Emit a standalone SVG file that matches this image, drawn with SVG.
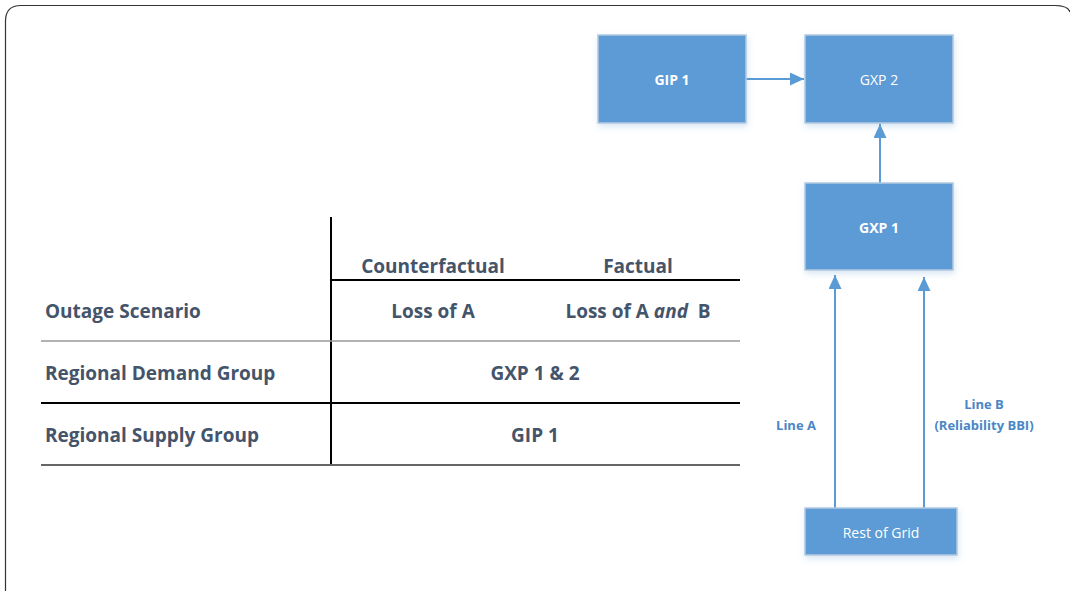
<svg xmlns="http://www.w3.org/2000/svg" width="1070" height="591" viewBox="0 0 1070 591">
<style>
.box{fill:#5b9bd5;stroke:#b4c9df;stroke-width:1.5}
.bt{font-family:"Open Sans","Liberation Sans",sans-serif;font-size:14px;fill:#ffffff;text-anchor:middle;dominant-baseline:central}
.b{font-weight:bold}
.conn{stroke:#5b9bd5;stroke-width:2;fill:none}
.lbl{font-family:"Open Sans","Liberation Sans",sans-serif;font-size:13px;font-weight:bold;fill:#4a86c5;text-anchor:middle}
.tt{font-family:"Open Sans","Liberation Sans",sans-serif;font-size:19px;font-weight:bold;fill:#44546a}
.c{text-anchor:middle}
</style>
<defs>
<marker id="ah" viewBox="0 0 10 10" refX="10" refY="5" markerWidth="7" markerHeight="6.5" orient="auto" markerUnits="strokeWidth" preserveAspectRatio="none">
<path d="M0,0 L10,5 L0,10 Z" fill="#5b9bd5"/>
</marker>
<filter id="sh" x="-10%" y="-10%" width="130%" height="140%">
<feDropShadow dx="1" dy="3" stdDeviation="3" flood-color="#5b9bd5" flood-opacity="0.25"/>
</filter>
</defs>
<rect width="1070" height="591" fill="#ffffff"/>
<path d="M5.5,591 L5.5,21 Q5.5,5.5 21,5.5 L1055,5.5 Q1068,5.5 1070,12" fill="none" stroke="#333333" stroke-width="1.2"/>

<g id="table">
<line x1="331" y1="217" x2="331" y2="465" stroke="#000" stroke-width="2"/>
<line x1="331" y1="280" x2="740" y2="280" stroke="#000" stroke-width="2"/>
<line x1="41" y1="341" x2="740" y2="341" stroke="#999" stroke-width="1.5"/>
<line x1="41" y1="403" x2="740" y2="403" stroke="#000" stroke-width="2"/>
<line x1="41" y1="465" x2="740" y2="465" stroke="#666" stroke-width="2"/>
<text class="tt c" x="433" y="273">Counterfactual</text>
<text class="tt c" x="638" y="273">Factual</text>
<text class="tt" x="45" y="318">Outage Scenario</text>
<text class="tt c" x="433" y="318">Loss of A</text>
<text class="tt c" x="638" y="318" style="white-space:pre">Loss of A <tspan font-style="italic">and</tspan>  B</text>
<text class="tt" x="45" y="380">Regional Demand Group</text>
<text class="tt c" x="535" y="380">GXP 1 &amp; 2</text>
<text class="tt" x="45" y="442">Regional Supply Group</text>
<text class="tt c" x="535" y="442">GIP 1</text>
</g>

<g id="connectors">
<line class="conn" x1="746" y1="79" x2="804" y2="79" marker-end="url(#ah)"/>
<line class="conn" x1="880" y1="183" x2="880" y2="124" marker-end="url(#ah)"/>
<line class="conn" x1="835" y1="508" x2="835" y2="275" marker-end="url(#ah)"/>
<line class="conn" x1="924" y1="508" x2="924" y2="277" marker-end="url(#ah)"/>
<text class="lbl" x="796" y="430">Line A</text>
<text class="lbl" x="984" y="409">Line B</text>
<text class="lbl" x="984" y="430">(Reliability BBI)</text>
</g>

<g id="gip1">
<rect class="box" x="598" y="35" width="148" height="88" filter="url(#sh)"/>
<text class="bt b" x="672" y="79">GIP 1</text>
</g>
<g id="gxp2">
<rect class="box" x="805" y="35" width="148" height="88" filter="url(#sh)"/>
<text class="bt" x="879" y="79">GXP 2</text>
</g>
<g id="gxp1">
<rect class="box" x="805" y="183" width="148" height="87" filter="url(#sh)"/>
<text class="bt b" x="879" y="227">GXP 1</text>
</g>
<g id="restofgrid">
<rect class="box" x="805" y="508" width="152" height="47" filter="url(#sh)"/>
<text class="bt" x="881" y="532">Rest of Grid</text>
</g>
</svg>
